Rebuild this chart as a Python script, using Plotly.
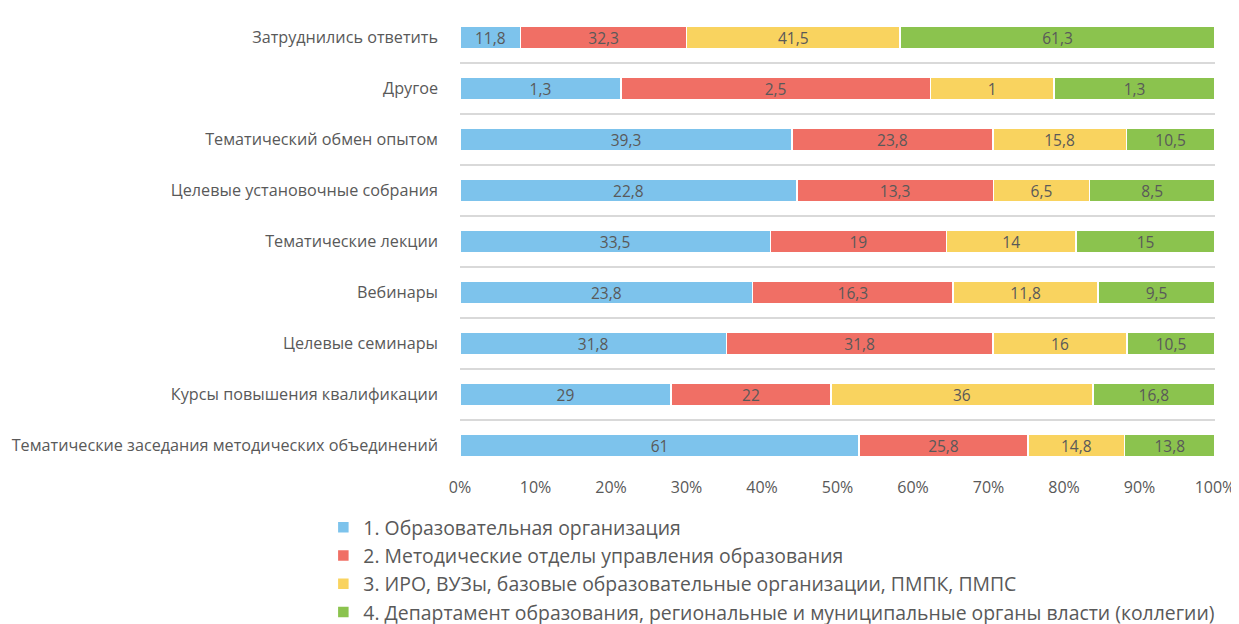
import plotly.graph_objects as go

categories = [
    "Тематические заседания методических объединений",
    "Курсы повышения квалификации",
    "Целевые семинары",
    "Вебинары",
    "Тематические лекции",
    "Целевые установочные собрания",
    "Тематический обмен опытом",
    "Другое",
    "Затруднились ответить",
]
series_names = [
    "1. Образовательная организация",
    "2. Методические отделы управления образования",
    "3. ИРО, ВУЗы, базовые образовательные организации, ПМПК, ПМПС",
    "4. Департамент образования, региональные и муниципальные органы власти (коллегии)",
]
s1 = [61, 29, 31.8, 23.8, 33.5, 22.8, 39.3, 1.3, 11.8]
s2 = [25.8, 22, 31.8, 16.3, 19, 13.3, 23.8, 2.5, 32.3]
s3 = [14.8, 36, 16, 11.8, 14, 6.5, 15.8, 1, 41.5]
s4 = [13.8, 16.8, 10.5, 9.5, 15, 8.5, 10.5, 1.3, 61.3]
colors = ["#7DC3EC", "#F06F65", "#F9D35F", "#8BC34E"]
tick_vals = [0, 10, 20, 30, 40, 50, 60, 70, 80, 90, 100]
tick_text = [f"{v}%" for v in tick_vals]

FONT = "Open Sans"
GRAY = "#595959"

fig = go.Figure()
for name, vals, col in zip(series_names, [s1, s2, s3, s4], colors):
    fig.add_trace(go.Bar(
        y=categories, x=vals, name=name, orientation="h",
        marker=dict(color=col, line=dict(color="white", width=1.5)),
        text=[f"{v:g}".replace(".", ",") for v in vals],
        textposition="inside", insidetextanchor="middle", textangle=0,
        textfont=dict(family=FONT, size=15.5, color=GRAY),
        constraintext="none",
        hoverinfo="skip",
    ))

fig.update_layout(
    barmode="stack", barnorm="percent", bargap=0.57,
    width=1239, height=624,
    margin=dict(l=452, r=32, t=4, b=161, autoexpand=False),
    paper_bgcolor="white", plot_bgcolor="white",
    font=dict(family=FONT, size=15.5, color=GRAY),
    showlegend=True,
    legend=dict(
        orientation="v", x=-0.181, y=-0.081, xanchor="left", yanchor="top",
        traceorder="normal", font=dict(family=FONT, size=19.4, color=GRAY),
        itemwidth=30, tracegroupgap=0,
    ),
    xaxis=dict(
        range=[0, 100], tickmode="array", tickvals=tick_vals, ticktext=tick_text,
        showgrid=False, zeroline=False, showline=False, ticks="",
        automargin=False, ticklabelstandoff=5,
        tickfont=dict(family=FONT, size=16, color=GRAY), fixedrange=True,
    ),
    yaxis=dict(
        type="category", categoryorder="array", categoryarray=categories,
        showgrid=True, gridcolor="#D9D9D9", gridwidth=1.5, tickson="boundaries",
        ticks="", showline=False, zeroline=False, ticklabelstandoff=21,
        automargin=False,
        tickfont=dict(family=FONT, size=16.2, color=GRAY), fixedrange=True,
    ),
)

fig.write_html("out.html")
